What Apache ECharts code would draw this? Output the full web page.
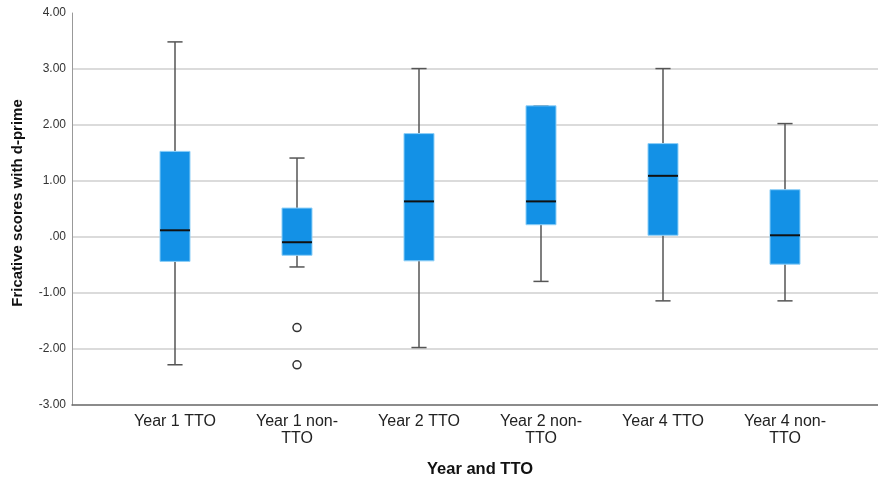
<!DOCTYPE html>
<html>
<head>
<meta charset="utf-8">
<script src="https://cdn.jsdelivr.net/npm/echarts@6/dist/echarts.min.js"></script>
<style>
  html, body { margin: 0; padding: 0; background: #fff; }
</style>
</head>
<body>
<div id="boxChart" style="width:878px;height:483px"></div>
<script>
// groups on the x axis
const categories = ['Year 1 TTO', 'Year 1 non-TTO', 'Year 2 TTO', 'Year 2 non-TTO', 'Year 4 TTO', 'Year 4 non-TTO'];
// whisker low, Q1, median, Q3, whisker high
const lowWhisker = [-2.33, -0.57, -2.02, -0.83, -1.18, -1.18];
const q1 = [-0.47, -0.36, -0.46, 0.19, 0.00, -0.52];
const median = [0.09, -0.125, 0.61, 0.61, 1.07, 0.00];
const q3 = [1.51, 0.49, 1.83, 2.33, 1.65, 0.82];
const highWhisker = [3.48, 1.39, 3.00, 2.33, 3.00, 2.01];
// outliers: [category, value]
const outlierGroup = ['Year 1 non-TTO', 'Year 1 non-TTO'];
const outlierValue = [-1.66, -2.33];
const yTicks = [-3, -2, -1, 0, 1, 2, 3, 4];

const boxData = categories.map((c, i) => [i, lowWhisker[i], q1[i], median[i], q3[i], highWhisker[i]]);
const outlierData = outlierGroup.map((g, i) => [g, outlierValue[i]]);

const chart = echarts.init(document.getElementById('boxChart'));

function renderBox(params, api) {
  const i = api.value(0);
  const pMin = api.coord([i, api.value(1)]);
  const pQ1 = api.coord([i, api.value(2)]);
  const pMed = api.coord([i, api.value(3)]);
  const pQ3 = api.coord([i, api.value(4)]);
  const pMax = api.coord([i, api.value(5)]);
  const band = api.size([1, 0])[0];
  const half = band * 0.123;
  const cap = band * 0.062;
  const x = pMed[0];
  const whisker = { stroke: '#555', lineWidth: 1.5 };
  return {
    type: 'group',
    children: [
      { type: 'line', shape: { x1: x, y1: pMax[1], x2: x, y2: pQ3[1] }, style: whisker },
      { type: 'line', shape: { x1: x, y1: pQ1[1], x2: x, y2: pMin[1] }, style: whisker },
      { type: 'line', shape: { x1: x - cap, y1: pMax[1], x2: x + cap, y2: pMax[1] }, style: whisker },
      { type: 'line', shape: { x1: x - cap, y1: pMin[1], x2: x + cap, y2: pMin[1] }, style: whisker },
      {
        type: 'rect',
        shape: { x: x - half, y: pQ3[1], width: half * 2, height: pQ1[1] - pQ3[1] },
        style: { fill: '#1391e6', stroke: '#8fd0f8', lineWidth: 1 }
      },
      { type: 'line', shape: { x1: x - half, y1: pMed[1], x2: x + half, y2: pMed[1] }, style: { stroke: '#111', lineWidth: 2 } }
    ]
  };
}

const option = {
  animation: false,
  textStyle: { fontFamily: 'Liberation Sans, Arial, sans-serif' },
  grid: [
    { left: 72, right: 0, top: 13, bottom: 78 },
    { left: 114, right: 32, top: 13, bottom: 78 }
  ],
  xAxis: [
    {
      type: 'value',
      gridIndex: 0,
      min: 0,
      max: 1,
      axisLine: { show: true, onZero: false, lineStyle: { color: '#666', width: 1.5 } },
      axisTick: { show: false },
      axisLabel: { show: false },
      splitLine: { show: false }
    },
    {
      type: 'category',
      gridIndex: 1,
      data: categories,
      axisLine: { show: false },
      axisTick: { show: false },
      axisLabel: {
        margin: 11,
        color: '#222',
        fontSize: 16,
        lineHeight: 17,
        interval: 0,
        formatter: v => v.replace('non-', 'non-\n')
      },
      name: 'Year and TTO',
      nameLocation: 'middle',
      nameGap: 59,
      nameTextStyle: { fontSize: 16.5, fontWeight: 'bold', color: '#111' }
    }
  ],
  yAxis: [
    {
      type: 'value',
      gridIndex: 0,
      min: yTicks[0],
      max: yTicks[yTicks.length - 1],
      interval: 1,
      axisLine: { show: true, lineStyle: { color: '#999', width: 1 } },
      axisTick: { show: false },
      axisLabel: {
        margin: 6,
        color: '#333',
        fontSize: 12,
        formatter: v => (v === 0 ? '.00' : v.toFixed(2))
      },
      splitLine: { show: true, showMaxLine: false, showMinLine: false, lineStyle: { color: '#cfcfcf', width: 1.5 } },
      name: 'Fricative scores with d-prime',
      nameLocation: 'middle',
      nameGap: 47,
      nameTextStyle: { fontSize: 15, fontWeight: 'bold', color: '#111', padding: [0, 0, 0, 12] }
    },
    {
      type: 'value',
      gridIndex: 1,
      min: yTicks[0],
      max: yTicks[yTicks.length - 1],
      interval: 1,
      show: false
    }
  ],
  series: [
    {
      type: 'custom',
      xAxisIndex: 1,
      yAxisIndex: 1,
      renderItem: renderBox,
      encode: { x: 0, y: [1, 2, 3, 4, 5] },
      data: boxData,
      z: 3
    },
    {
      type: 'scatter',
      xAxisIndex: 1,
      yAxisIndex: 1,
      symbol: 'circle',
      symbolSize: 8,
      itemStyle: { color: '#fff', borderColor: '#333', borderWidth: 1.5, opacity: 1 },
      data: outlierData,
      z: 4
    }
  ]
};

chart.setOption(option);
</script>
</body>
</html>
